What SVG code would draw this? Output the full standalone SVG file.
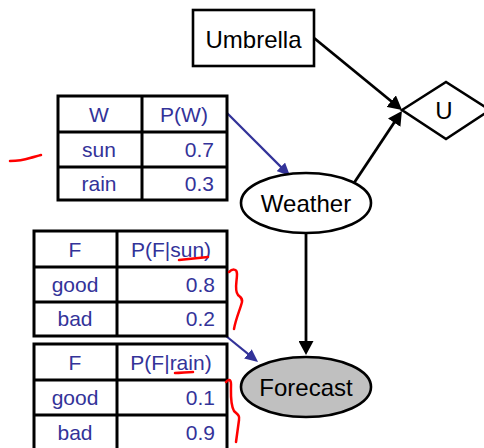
<svg xmlns="http://www.w3.org/2000/svg" width="484" height="448" viewBox="0 0 484 448">
  <style>
    .node { fill: #ffffff; stroke: #000000; stroke-width: 2.6; }
    .observed { fill: #c0c0c0; }
    .label { font-family: "Liberation Sans", Arial, sans-serif; font-size: 24px; fill: #000000; text-anchor: middle; }
    .grid { fill: none; stroke: #000000; stroke-width: 3; }
    .cell { font-family: "Liberation Sans", Arial, sans-serif; font-size: 21px; fill: #333399; text-anchor: middle; }
    .num { text-anchor: end; }
    .edge { stroke: #000000; stroke-width: 2.8; fill: none; }
    .cpt-edge { stroke: #333399; stroke-width: 2.2; fill: none; }
    .ink { stroke: #ff0000; stroke-width: 2.5; fill: none; stroke-linecap: round; stroke-linejoin: round; }
  </style>
  <defs>
    <marker id="arrow" markerUnits="userSpaceOnUse" markerWidth="14" markerHeight="15" refX="10" refY="7.5" orient="auto">
      <path d="M0,0 L14,7.5 L0,15 z" fill="#000000"/>
    </marker>
    <marker id="arrow-blue" markerUnits="userSpaceOnUse" markerWidth="13" markerHeight="12" refX="10" refY="6" orient="auto">
      <path d="M0,0 L13,6 L0,12 z" fill="#333399"/>
    </marker>
  </defs>

  <rect width="484" height="448" fill="#ffffff"/>

  <!-- connectors -->
  <g id="connectors">
    <line class="edge" x1="314" y1="38" x2="398.9" y2="107.5" marker-end="url(#arrow)"/>
    <line class="edge" x1="354" y1="183" x2="399.7" y2="114.3" marker-end="url(#arrow)"/>
    <line class="edge" x1="306" y1="233" x2="306" y2="351" marker-end="url(#arrow)"/>
    <line class="cpt-edge" x1="227" y1="113" x2="287.9" y2="173.9" marker-end="url(#arrow-blue)"/>
    <line class="cpt-edge" x1="226" y1="336" x2="255.7" y2="360.1" marker-end="url(#arrow-blue)"/>
  </g>

  <!-- decision node -->
  <g id="umbrella">
    <rect class="node" x="193" y="10" width="121" height="56"/>
    <text class="label" x="253.5" y="48">Umbrella</text>
  </g>

  <!-- utility node -->
  <g id="utility">
    <polygon class="node" points="402,110 446,82 490,110 446,139"/>
    <text class="label" x="444" y="119">U</text>
  </g>

  <!-- chance nodes -->
  <g id="weather">
    <ellipse class="node" cx="306" cy="203" rx="65" ry="30"/>
    <text class="label" x="306" y="212">Weather</text>
  </g>
  <g id="forecast">
    <ellipse class="node observed" cx="306" cy="387" rx="65" ry="30"/>
    <text class="label" x="306" y="396">Forecast</text>
  </g>

  <!-- P(W) -->
  <g id="table-w">
    <rect class="grid" x="58" y="96" width="169" height="104"/>
    <line class="grid" x1="58" y1="132" x2="227" y2="132"/>
    <line class="grid" x1="58" y1="167" x2="227" y2="167"/>
    <line class="grid" x1="142" y1="96" x2="142" y2="200"/>
    <text class="cell" x="99" y="122">W</text>
    <text class="cell" x="184" y="122">P(W)</text>
    <text class="cell" x="99" y="157">sun</text>
    <text class="cell num" x="214" y="157">0.7</text>
    <text class="cell" x="99" y="191">rain</text>
    <text class="cell num" x="214" y="191">0.3</text>
  </g>

  <!-- P(F|sun) -->
  <g id="table-f-sun">
    <rect class="grid" x="34" y="231" width="193" height="105"/>
    <line class="grid" x1="34" y1="267" x2="227" y2="267"/>
    <line class="grid" x1="34" y1="302" x2="227" y2="302"/>
    <line class="grid" x1="117" y1="231" x2="117" y2="336"/>
    <text class="cell" x="75" y="257">F</text>
    <text class="cell" x="171" y="257">P(F|sun)</text>
    <text class="cell" x="75" y="292">good</text>
    <text class="cell num" x="215" y="292">0.8</text>
    <text class="cell" x="75" y="326">bad</text>
    <text class="cell num" x="215" y="326">0.2</text>
  </g>

  <!-- P(F|rain) -->
  <g id="table-f-rain">
    <rect class="grid" x="34" y="344" width="193" height="108"/>
    <line class="grid" x1="34" y1="380" x2="227" y2="380"/>
    <line class="grid" x1="34" y1="415" x2="227" y2="415"/>
    <line class="grid" x1="117" y1="344" x2="117" y2="452"/>
    <text class="cell" x="75" y="370">F</text>
    <text class="cell" x="171" y="370">P(F|rain)</text>
    <text class="cell" x="75" y="405">good</text>
    <text class="cell num" x="215" y="405">0.1</text>
    <text class="cell" x="75" y="440">bad</text>
    <text class="cell num" x="215" y="440">0.9</text>
  </g>

  <!-- red pen marks -->
  <g id="ink">
    <path class="ink" d="M10,161 C18,161 24,160 30,158 C34,157 37,156 41,155"/>
    <path class="ink" d="M179,260 C188,259 198,258 208,257"/>
    <path class="ink" d="M229,272 C232,269 237,268 237,274 C237,282 234,290 238,295 C240,297 243,298 242,302 C240,310 236,318 234,329"/>
    <path class="ink" d="M175,373 C181,373 187,372 193,372"/>
    <path class="ink" d="M226,382 C228,379 231,379 231,384 C231,394 230,404 234,411 C237,414 240,415 239,420 C238,427 237,435 236,442"/>
  </g>
</svg>
